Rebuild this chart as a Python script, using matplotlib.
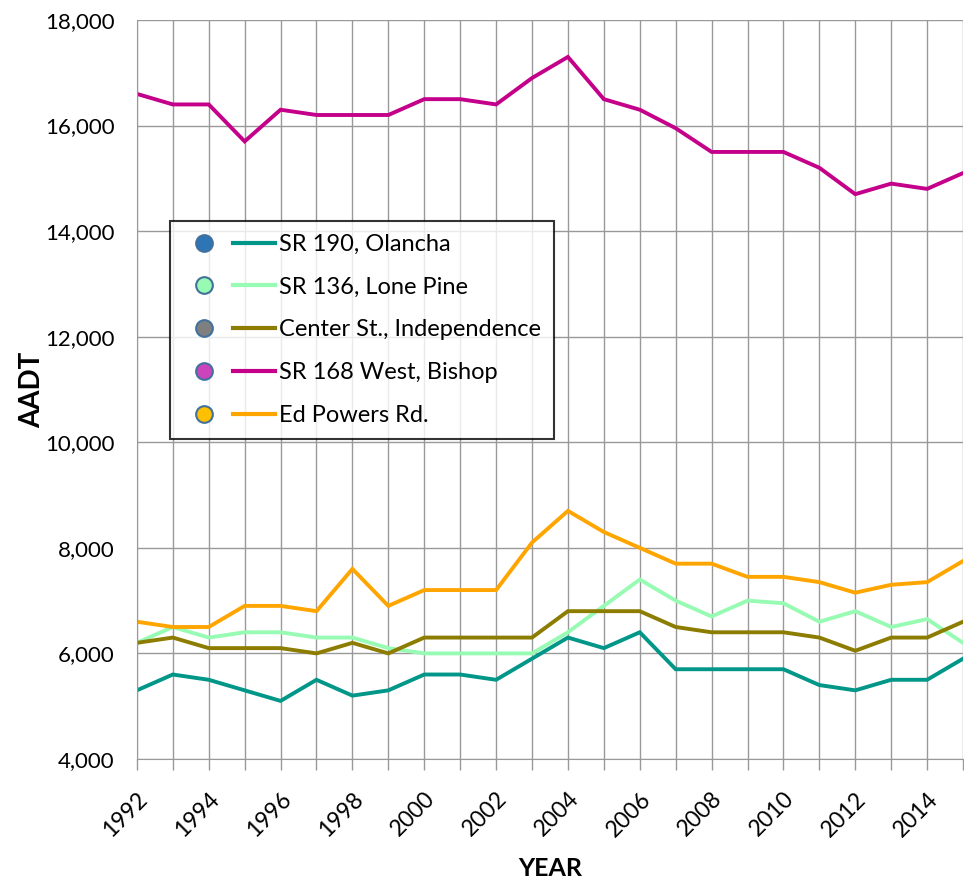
import matplotlib
matplotlib.use('Agg')
from matplotlib import pyplot as plt
from matplotlib.lines import Line2D
from matplotlib.legend_handler import HandlerTuple
from matplotlib.ticker import FuncFormatter, MultipleLocator

plt.rcParams['font.family'] = ['Lato', 'DejaVu Sans']

years = list(range(1992, 2016))

olancha = [5300, 5600, 5500, 5300, 5100, 5500, 5200, 5300, 5600, 5600, 5500, 5900,
           6300, 6100, 6400, 5700, 5700, 5700, 5700, 5400, 5300, 5500, 5500, 5900]
lone_pine = [6200, 6500, 6300, 6400, 6400, 6300, 6300, 6100, 6000, 6000, 6000, 6000,
             6400, 6900, 7400, 7000, 6700, 7000, 6950, 6600, 6800, 6500, 6650, 6200]
center_st = [6200, 6300, 6100, 6100, 6100, 6000, 6200, 6000, 6300, 6300, 6300, 6300,
             6800, 6800, 6800, 6500, 6400, 6400, 6400, 6300, 6050, 6300, 6300, 6600]
bishop = [16600, 16400, 16400, 15700, 16300, 16200, 16200, 16200, 16500, 16500, 16400, 16900,
          17300, 16500, 16300, 15950, 15500, 15500, 15500, 15200, 14700, 14900, 14800, 15100]
ed_powers = [6600, 6500, 6500, 6900, 6900, 6800, 7600, 6900, 7200, 7200, 7200, 8100,
             8700, 8300, 8000, 7700, 7700, 7450, 7450, 7350, 7150, 7300, 7350, 7750]

labels = ['SR 190, Olancha', 'SR 136, Lone Pine', 'Center St., Independence',
          'SR 168 West, Bishop', 'Ed Powers Rd.']
series = [olancha, lone_pine, center_st, bishop, ed_powers]
line_colors = ['#009688', '#98FBB4', '#8C7C00', '#C4008A', '#FFA500']
marker_colors = ['#2E75B6', '#98FBB4', '#7F7F7F', '#CC44BB', '#FFC000']

fig = plt.figure(figsize=(9.64, 8.88), dpi=100)
ax = fig.add_axes([0.142, 0.1453, 0.857, 0.8322])

for vals, c in zip(series, line_colors):
    ax.plot(years, vals, color=c, lw=2.8, solid_joinstyle='miter')

ax.set_xlim(1992, 2015)
ax.set_ylim(4000, 18000)
ax.yaxis.set_major_locator(MultipleLocator(2000))
ax.set_xticks(years)
ax.set_xticklabels([str(y) if y % 2 == 0 else '' for y in years],
                   rotation=45, ha='right', va='top', rotation_mode='anchor', fontsize=16.5)
ax.yaxis.set_major_formatter(FuncFormatter(lambda v, p: f'{int(v):,}'))
ax.tick_params(axis='y', labelsize=16, length=0, pad=16)
ax.tick_params(axis='x', length=8, color='#999999', width=1, pad=13)
ax.grid(True, color='#999999', lw=1)
ax.set_axisbelow(True)
for s in ax.spines.values():
    s.set_visible(False)
ax.spines['left'].set_visible(True)
ax.spines['left'].set_color('#999999')
ax.spines['bottom'].set_visible(True)
ax.spines['bottom'].set_color('#999999')

ax.set_ylabel('AADT', fontsize=20, fontweight='bold', labelpad=0)
ax.set_xlabel('YEAR', fontsize=18, fontweight='bold', labelpad=12)

handles = []
for mc, lc in zip(marker_colors, line_colors):
    m = Line2D([], [], ls='none', marker='o', ms=12, mfc=mc, mec='#41719C', mew=1.5)
    ln = Line2D([], [], color=lc, lw=3)
    handles.append((m, ln))

leg = ax.legend(handles, labels, handler_map={tuple: HandlerTuple(ndivide=None, pad=0.3)},
                loc='upper left', bbox_to_anchor=(0.04, 0.728), fontsize=17,
                handlelength=3.9, labelspacing=0.92, handletextpad=0.15,
                frameon=True, fancybox=False, borderpad=0.55, borderaxespad=0)
leg.get_frame().set_edgecolor('black')
leg.get_frame().set_linewidth(1.5)

fig.savefig('out.png', dpi=100)
